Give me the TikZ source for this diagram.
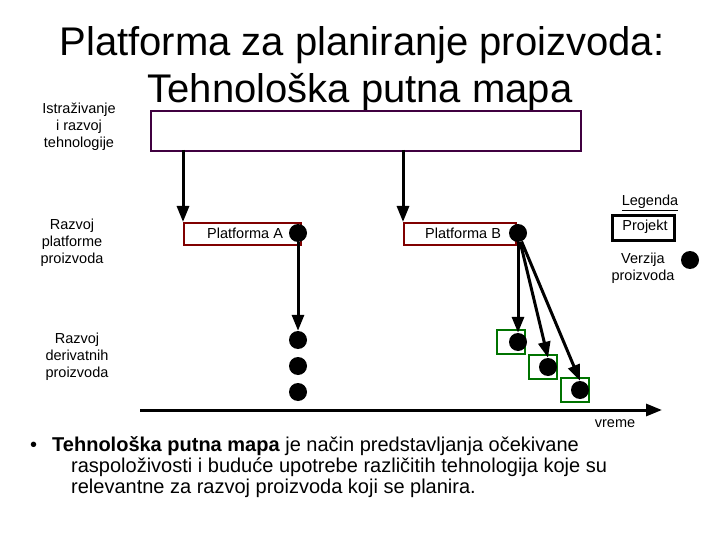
\documentclass[tikz,border=0pt]{standalone}
\usepackage{fontspec}
\setmainfont{Liberation Sans}
\usetikzlibrary{arrows.meta}
\begin{document}
\begin{tikzpicture}[x=1pt,y=-1pt,
 lbl/.style={align=center,font=\fontsize{14.5}{17}\selectfont,inner sep=0},
 dot/.style={circle,fill=black,minimum size=18,inner sep=0},
 gbox/.style={draw=green!45!black,line width=2.5pt,minimum width=28,minimum height=24,inner sep=0},
 arr/.style={line width=3pt,-{Triangle[length=16pt,width=12pt]}},
 pbox/.style={draw=red!50!black,line width=2pt,minimum height=22,inner sep=0}]
\useasboundingbox (0,0) rectangle (720,540);
\node[font=\fontsize{40}{44}\selectfont] (t1) at (362,45) {Platforma za planiranje proizvoda:};
\node[font=\fontsize{40}{44}\selectfont] (t2) at (360,92) {Tehnološka putna mapa};
\node[draw=violet!50!black,line width=2pt,fill=white,minimum width=430,minimum height=40,inner sep=0,anchor=north west] (top) at (150,110) {};
\node[lbl] (l1) at (79,127) {Istraživanje\\ i razvoj\\tehnologije};
\node[lbl] (l2) at (72,243) {Razvoj\\platforme\\proizvoda};
\node[lbl] (l3) at (77,357) {Razvoj\\derivatnih\\proizvoda};
\node[pbox,minimum width=117,anchor=north west] (pa) at (183,222) {};
\node[lbl,anchor=west] (pat) at (207,233) {Platforma A};
\node[pbox,minimum width=112,anchor=north west] (pb) at (403,222) {};
\node[lbl,anchor=west] (pbt) at (425,233) {Platforma B};
\draw[arr] (183,150) -- (pa.north west);
\draw[arr] (403,150) -- (pb.north west);
\node[dot] (da) at (298,233) {};
\node[dot] (db) at (518,233) {};
\node[dot] (a1) at (298,340) {};
\node[dot] (a2) at (298,366) {};
\node[dot] (a3) at (298,392) {};
\draw[arr] (da) -- (a1.north);
\node[gbox] (g1) at (511,342) {};
\node[gbox] (g2) at (543,367) {};
\node[gbox] (g3) at (575,390) {};
\node[dot] (b1) at (518,342) {};
\node[dot] (b2) at (548,367) {};
\node[dot] (b3) at (580,390) {};
\draw[arr] (db) -- (b1.north);
\draw[arr] (db) -- (b2.north);
\draw[arr] (db) -- (b3.north);
\coordinate (ax0) at (140,410);
\coordinate (ax1) at (662,410);
\draw[arr] (ax0) -- (ax1);
\node[lbl] (vr) at (615,424) {vreme};
\node[lbl] (leg) at (650,203) {\underline{Legenda}};
\node[draw,line width=3pt,minimum width=62,minimum height=24,inner sep=0] (pj) at (643,228) {};
\node[lbl] (pjt) at (645,227) {Projekt};
\node[lbl] (vz) at (643,268) {Verzija\\proizvoda};
\node[dot] (ld) at (690,260) {};
\node[anchor=north west,align=left,font=\fontsize{20}{21}\selectfont,inner sep=0] (bul) at (30,436)
 {•\hspace{15pt}\textbf{Tehnološka putna mapa} je način predstavljanja očekivane\\
 \hspace{41pt}raspoloživosti i buduće upotrebe različitih tehnologija koje su\\
 \hspace{41pt}relevantne za razvoj proizvoda koji se planira.};
\end{tikzpicture}
\end{document}
